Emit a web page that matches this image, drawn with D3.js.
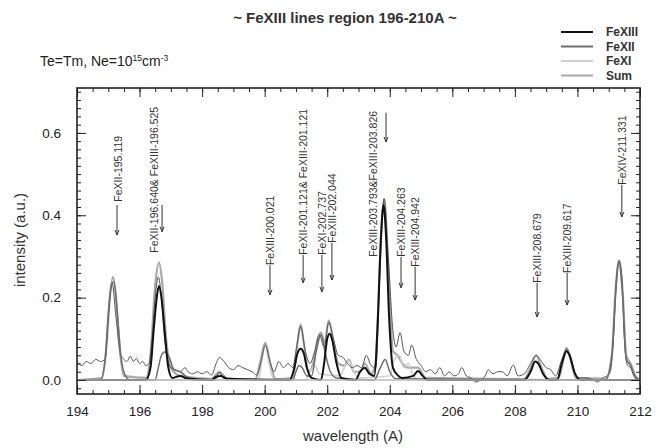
<!DOCTYPE html>
<html>
<head>
<meta charset="utf-8">
<script src="https://cdn.jsdelivr.net/npm/d3@7"></script>
<style>
  body { margin: 0; background: #fff; }
  svg { font-family: "Liberation Sans", Arial, sans-serif; }
</style>
</head>
<body>
<div id="chart"></div>
<script>
// wavelength (A) / intensity pairs
const observed = [[194,0.045],[194.15,0.035],[194.3,0.045],[194.45,0.04],[194.6,0.05],[194.75,0.045],[194.9,0.05],[195.0,0.15],[195.12,0.235],[195.25,0.15],[195.4,0.06],[195.5,0.05],[195.6,0.045],[195.7,0.058],[195.8,0.045],[195.9,0.052],[196.0,0.04],[196.1,0.045],[196.2,0.035],[196.3,0.04],[196.4,0.1],[196.5,0.2],[196.6,0.25],[196.7,0.2],[196.8,0.1],[196.9,0.05],[197.0,0.03],[197.15,0.025],[197.3,0.02],[197.45,0.03],[197.55,0.02],[197.7,0.015],[197.85,0.02],[198.0,0.015],[198.15,0.02],[198.3,0.012],[198.45,0.04],[198.55,0.055],[198.7,0.045],[198.85,0.03],[199.0,0.025],[199.15,0.035],[199.3,0.03],[199.45,0.025],[199.6,0.02],[199.75,0.012],[199.9,0.05],[200.02,0.085],[200.15,0.05],[200.3,0.02],[200.45,0.045],[200.6,0.03],[200.75,0.04],[200.9,0.03],[201.0,0.07],[201.15,0.13],[201.3,0.07],[201.45,0.04],[201.6,0.07],[201.75,0.11],[201.9,0.08],[202.05,0.14],[202.2,0.1],[202.35,0.06],[202.5,0.055],[202.65,0.04],[202.8,0.03],[202.95,0.035],[203.1,0.03],[203.25,0.06],[203.4,0.035],[203.55,0.03],[203.7,0.3],[203.82,0.44],[203.95,0.3],[204.1,0.12],[204.2,0.08],[204.33,0.115],[204.45,0.07],[204.6,0.06],[204.7,0.085],[204.85,0.05],[205.0,0.035],[205.15,0.02],[205.3,0.025],[205.45,0.015],[205.6,0.03],[205.75,0.01],[205.9,0.02],[206.05,0.01],[206.2,0.015],[206.3,0.03],[206.45,0.01],[206.6,0.005],[206.75,-0.005],[206.9,0.0],[207.05,0.01],[207.15,0.025],[207.3,0.015],[207.45,0.02],[207.6,0.02],[207.75,0.01],[207.95,0.036],[208.1,0.01],[208.3,0.015],[208.5,0.04],[208.68,0.06],[208.85,0.045],[209.0,0.03],[209.15,0.025],[209.3,0.01],[209.5,0.05],[209.65,0.075],[209.8,0.05],[209.95,0.01],[210.1,0.005],[210.3,0.005],[210.5,0.0],[210.65,-0.005],[210.8,0.005],[210.95,0.01],[211.05,0.02],[211.15,0.1],[211.25,0.25],[211.33,0.29],[211.42,0.25],[211.5,0.1],[211.6,0.035],[211.7,0.03],[211.8,0.01],[211.95,0.0],[212,0]]

const sumSpec = [[194,0],[194.8,0.005],[194.95,0.09],[195.05,0.2],[195.15,0.25],[195.25,0.2],[195.35,0.09],[195.5,0.01],[196.2,0.005],[196.35,0.06],[196.5,0.23],[196.62,0.285],[196.72,0.24],[196.85,0.1],[197.0,0.03],[197.3,0.01],[198.3,0.003],[198.55,0.02],[198.8,0.003],[199.7,0.002],[199.85,0.04],[200.02,0.09],[200.18,0.04],[200.35,0.002],[200.9,0.005],[201.05,0.09],[201.15,0.135],[201.25,0.09],[201.4,0.02],[201.55,0.04],[201.7,0.1],[201.8,0.115],[201.92,0.09],[202.05,0.145],[202.2,0.09],[202.35,0.04],[202.55,0.035],[202.7,0.05],[202.85,0.02],[203.05,0.02],[203.2,0.04],[203.4,0.015],[203.55,0.04],[203.68,0.28],[203.82,0.44],[203.95,0.28],[204.1,0.07],[204.25,0.06],[204.4,0.04],[204.6,0.03],[204.9,0.03],[205.15,0.005],[208.3,0.002],[208.5,0.03],[208.68,0.06],[208.85,0.03],[209.05,0.003],[209.4,0.005],[209.55,0.05],[209.65,0.078],[209.78,0.05],[209.95,0.005],[210.9,0.003],[211.1,0.06],[211.22,0.22],[211.33,0.29],[211.44,0.22],[211.56,0.06],[211.7,0.04],[211.85,0.01],[212,0]]

const fexiii = [[194,0],[196.2,0],[196.35,0.03],[196.45,0.12],[196.55,0.2],[196.62,0.228],[196.7,0.2],[196.8,0.12],[196.92,0.03],[197.05,0.005],[197.3,0.01],[197.5,0.004],[198.3,0],[198.45,0.008],[198.6,0.01],[198.8,0.003],[200.8,0],[200.95,0.03],[201.05,0.065],[201.15,0.076],[201.25,0.065],[201.35,0.03],[201.5,0.005],[201.8,0],[201.9,0.04],[202.0,0.1],[202.08,0.112],[202.15,0.1],[202.3,0.04],[202.45,0.005],[202.9,0],[203.05,0.02],[203.2,0.03],[203.35,0.015],[203.5,0.01],[203.62,0.15],[203.72,0.35],[203.8,0.425],[203.88,0.35],[203.98,0.15],[204.1,0.03],[204.25,0.012],[204.4,0.005],[204.75,0.01],[204.9,0.022],[205.05,0.01],[205.2,0],[208.3,0],[208.5,0.02],[208.65,0.045],[208.75,0.04],[208.9,0.015],[209.1,0],[209.35,0],[209.5,0.04],[209.65,0.07],[209.75,0.06],[209.9,0.02],[210.1,0],[212,0]]

const fexii = [[194,0],[194.75,0],[194.9,0.05],[195.0,0.16],[195.1,0.23],[195.18,0.238],[195.28,0.17],[195.4,0.06],[195.55,0.01],[195.7,0],[196.5,0],[196.6,0.03],[196.7,0.06],[196.8,0.068],[196.95,0.055],[197.1,0.025],[197.3,0.02],[197.5,0.008],[197.7,0],[198.4,0],[198.55,0.018],[198.7,0.004],[200.9,0],[201.0,0.02],[201.1,0.035],[201.2,0.03],[201.35,0.01],[201.5,0.01],[201.65,0.07],[201.8,0.11],[201.95,0.06],[202.1,0.02],[202.3,0.005],[203.5,0],[203.7,0.03],[203.85,0.05],[204.0,0.02],[204.2,0.003],[210.9,0],[211.1,0.06],[211.22,0.21],[211.33,0.285],[211.44,0.21],[211.56,0.05],[211.7,0.035],[211.85,0.008],[212,0]]

const fexi = [[194,0],[199.8,0],[199.9,0.04],[200.02,0.085],[200.14,0.04],[200.3,0],[201.3,0],[201.45,0.02],[201.6,0.035],[201.75,0.015],[202.4,0.01],[202.55,0.03],[202.7,0.05],[202.85,0.02],[203.0,0.005],[204.0,0.01],[204.15,0.05],[204.3,0.06],[204.45,0.03],[204.6,0.04],[204.75,0.01],[205.0,0],[212,0]]

const seriesNames = ["FeXIII", "FeXII", "FeXI", "Sum"]

const labels = [
  { text: "FeXII-195.119", x: 195.31, ax: 195.28, base: 0.433, top: 0.425, tip: 0.352 },
  { text: "FeXII-196.640& FeXIII-196.525", x: 196.46, ax: 196.72, base: 0.309, top: 0.425, tip: 0.36 },
  { text: "FeXIII-200.021", x: 200.17, ax: 200.17, base: 0.279, top: 0.279, tip: 0.207 },
  { text: "FeXII-201.121& FeXIII-201.121", x: 201.23, ax: 201.23, base: 0.304, top: 0.304, tip: 0.236 },
  { text: "FeXI-202.737", x: 201.83, ax: 201.83, base: 0.304, top: 0.304, tip: 0.214 },
  { text: "FeXIII-202.044", x: 202.15, ax: 202.15, base: 0.333, top: 0.333, tip: 0.243 },
  { text: "FeXIII-203.793&FeXIII-203.826", x: 203.46, ax: 203.88, base: 0.299, top: 0.649, tip: 0.578 },
  { text: "FeXIII-204.263", x: 204.36, ax: 204.36, base: 0.299, top: 0.299, tip: 0.224 },
  { text: "FeXIII-204.942", x: 204.81, ax: 204.81, base: 0.275, top: 0.275, tip: 0.194 },
  { text: "FeXIII-208.679", x: 208.71, ax: 208.71, base: 0.236, top: 0.236, tip: 0.153 },
  { text: "FeXIII-209.617", x: 209.67, ax: 209.67, base: 0.26, top: 0.26, tip: 0.182 },
  { text: "FeXIV-211.331", x: 211.42, ax: 211.42, base: 0.474, top: 0.474, tip: 0.396 }
]

const xTicks = [194, 196, 198, 200, 202, 204, 206, 208, 210, 212]
const yTicks = [0.0, 0.2, 0.4, 0.6]

const width = 665, height = 448
const margin = {top: 88, right: 25, bottom: 54, left: 77}

const svg = d3.select("#chart").append("svg")
  .attr("width", width).attr("height", height)

const x = d3.scaleLinear().domain([194, 212]).range([margin.left, width - margin.right])
const y = d3.scaleLinear().domain([-0.034, 0.709]).range([height - margin.bottom, margin.top])

const x0 = margin.left, x1 = width - margin.right
const y0 = height - margin.bottom, y1 = margin.top

svg.append("clipPath").attr("id", "clip")
  .append("rect").attr("x", x0).attr("y", y1).attr("width", x1 - x0).attr("height", y0 - y1)

const line = d3.line().x(d => x(d[0])).y(d => y(d[1])).curve(d3.curveMonotoneX)

const plot = svg.append("g").attr("clip-path", "url(#clip)")

plot.append("path").datum(sumSpec)
  .attr("d", line).attr("fill", "none").attr("stroke", "#a8a8a8").attr("stroke-width", 2.2)
plot.append("path").datum(fexi)
  .attr("d", line).attr("fill", "none").attr("stroke", "#cfcfcf").attr("stroke-width", 1.5)
plot.append("path").datum(observed)
  .attr("d", line).attr("fill", "none").attr("stroke", "#555").attr("stroke-width", 1)
plot.append("path").datum(fexii)
  .attr("d", line).attr("fill", "none").attr("stroke", "#6e6e6e").attr("stroke-width", 1.5)
plot.append("path").datum(fexiii)
  .attr("d", line).attr("fill", "none").attr("stroke", "#111").attr("stroke-width", 2)

// zero line
plot.append("line").attr("x1", x0).attr("x2", x1).attr("y1", y(0)).attr("y2", y(0))
  .attr("stroke", "#bbb").attr("stroke-width", 1.5)

// axes, IDL style ticks on all four sides
const axes = svg.append("g")
axes.append("g").attr("transform", `translate(0,${y0})`)
  .call(d3.axisBottom(x).tickValues(xTicks).tickSizeInner(-9).tickSizeOuter(0).tickPadding(12).tickFormat(d3.format("d")))
axes.append("g").attr("transform", `translate(0,${y0})`)
  .call(d3.axisBottom(x).tickValues(d3.range(194, 212.01, 0.5)).tickSizeInner(-4).tickSizeOuter(0).tickFormat(""))
axes.append("g").attr("transform", `translate(0,${y1})`)
  .call(d3.axisTop(x).tickValues(xTicks).tickSizeInner(-9).tickSizeOuter(0).tickFormat(""))
axes.append("g").attr("transform", `translate(0,${y1})`)
  .call(d3.axisTop(x).tickValues(d3.range(194, 212.01, 0.5)).tickSizeInner(-4).tickSizeOuter(0).tickFormat(""))
axes.append("g").attr("transform", `translate(${x0},0)`)
  .call(d3.axisLeft(y).tickValues(yTicks).tickSizeInner(-9).tickSizeOuter(0).tickPadding(16).tickFormat(d3.format(".1f")))
axes.append("g").attr("transform", `translate(${x0},0)`)
  .call(d3.axisLeft(y).tickValues(d3.range(-0.02, 0.705, 0.02)).tickSizeInner(-4).tickSizeOuter(0).tickFormat(""))
axes.append("g").attr("transform", `translate(${x1},0)`)
  .call(d3.axisRight(y).tickValues(yTicks).tickSizeInner(-9).tickSizeOuter(0).tickFormat(""))
axes.append("g").attr("transform", `translate(${x1},0)`)
  .call(d3.axisRight(y).tickValues(d3.range(-0.02, 0.705, 0.02)).tickSizeInner(-4).tickSizeOuter(0).tickFormat(""))
axes.selectAll(".domain").remove()
axes.selectAll(".tick line").attr("stroke", "#222").attr("stroke-width", 1)
axes.selectAll(".tick text").attr("font-size", 13.5).attr("fill", "#222")
  .attr("font-family", "Liberation Sans, Arial, sans-serif")

svg.append("rect").attr("x", x0).attr("y", y1).attr("width", x1 - x0).attr("height", y0 - y1)
  .attr("fill", "none").attr("stroke", "#222").attr("stroke-width", 1.6)

// line annotations
const ann = svg.append("g").attr("fill", "#333").attr("font-size", 10.5)
labels.forEach(l => {
  const tx = x(l.x), ax = x(l.ax)
  ann.append("text")
    .attr("transform", `translate(${tx + 4},${y(l.base)}) rotate(-90)`)
    .text(l.text)
  ann.append("line").attr("x1", ax).attr("x2", ax)
    .attr("y1", y(l.top)).attr("y2", y(l.tip))
    .attr("stroke", "#333").attr("stroke-width", 1)
  ann.append("path")
    .attr("d", `M${ax - 2},${y(l.tip) - 5}L${ax},${y(l.tip)}L${ax + 2},${y(l.tip) - 5}`)
    .attr("fill", "none").attr("stroke", "#333").attr("stroke-width", 1)
})

// titles
svg.append("text").attr("x", 345).attr("y", 23).attr("text-anchor", "middle")
  .attr("font-size", 15).attr("font-weight", "bold").attr("fill", "#333")
  .text("~ FeXIII lines region 196-210A ~")

const sub = svg.append("text").attr("x", 40).attr("y", 66).attr("font-size", 14).attr("fill", "#222")
sub.append("tspan").text("Te=Tm, Ne=10")
sub.append("tspan").attr("dy", -5).attr("font-size", 8.5).text("15")
sub.append("tspan").attr("dy", 5).text("cm")
sub.append("tspan").attr("dy", -5).attr("font-size", 8.5).text("-3")

svg.append("text").attr("x", 353).attr("y", 441).attr("text-anchor", "middle")
  .attr("font-size", 15).attr("fill", "#333").text("wavelength (A)")

svg.append("text").attr("transform", "translate(25,240) rotate(-90)").attr("text-anchor", "middle")
  .attr("font-size", 15).attr("fill", "#333").text("intensity (a.u.)")

// legend
const legColors = ["#111", "#6e6e6e", "#cfcfcf", "#a8a8a8"]
const leg = svg.append("g")
seriesNames.forEach((name, i) => {
  const ly = 32 + i * 14.5
  leg.append("line").attr("x1", 561).attr("x2", 593).attr("y1", ly).attr("y2", ly)
    .attr("stroke", legColors[i]).attr("stroke-width", 2)
  leg.append("text").attr("x", 606).attr("y", ly + 4).attr("font-size", 12)
    .attr("font-weight", "bold").attr("fill", "#333").text(name)
})
</script>
</body>
</html>
